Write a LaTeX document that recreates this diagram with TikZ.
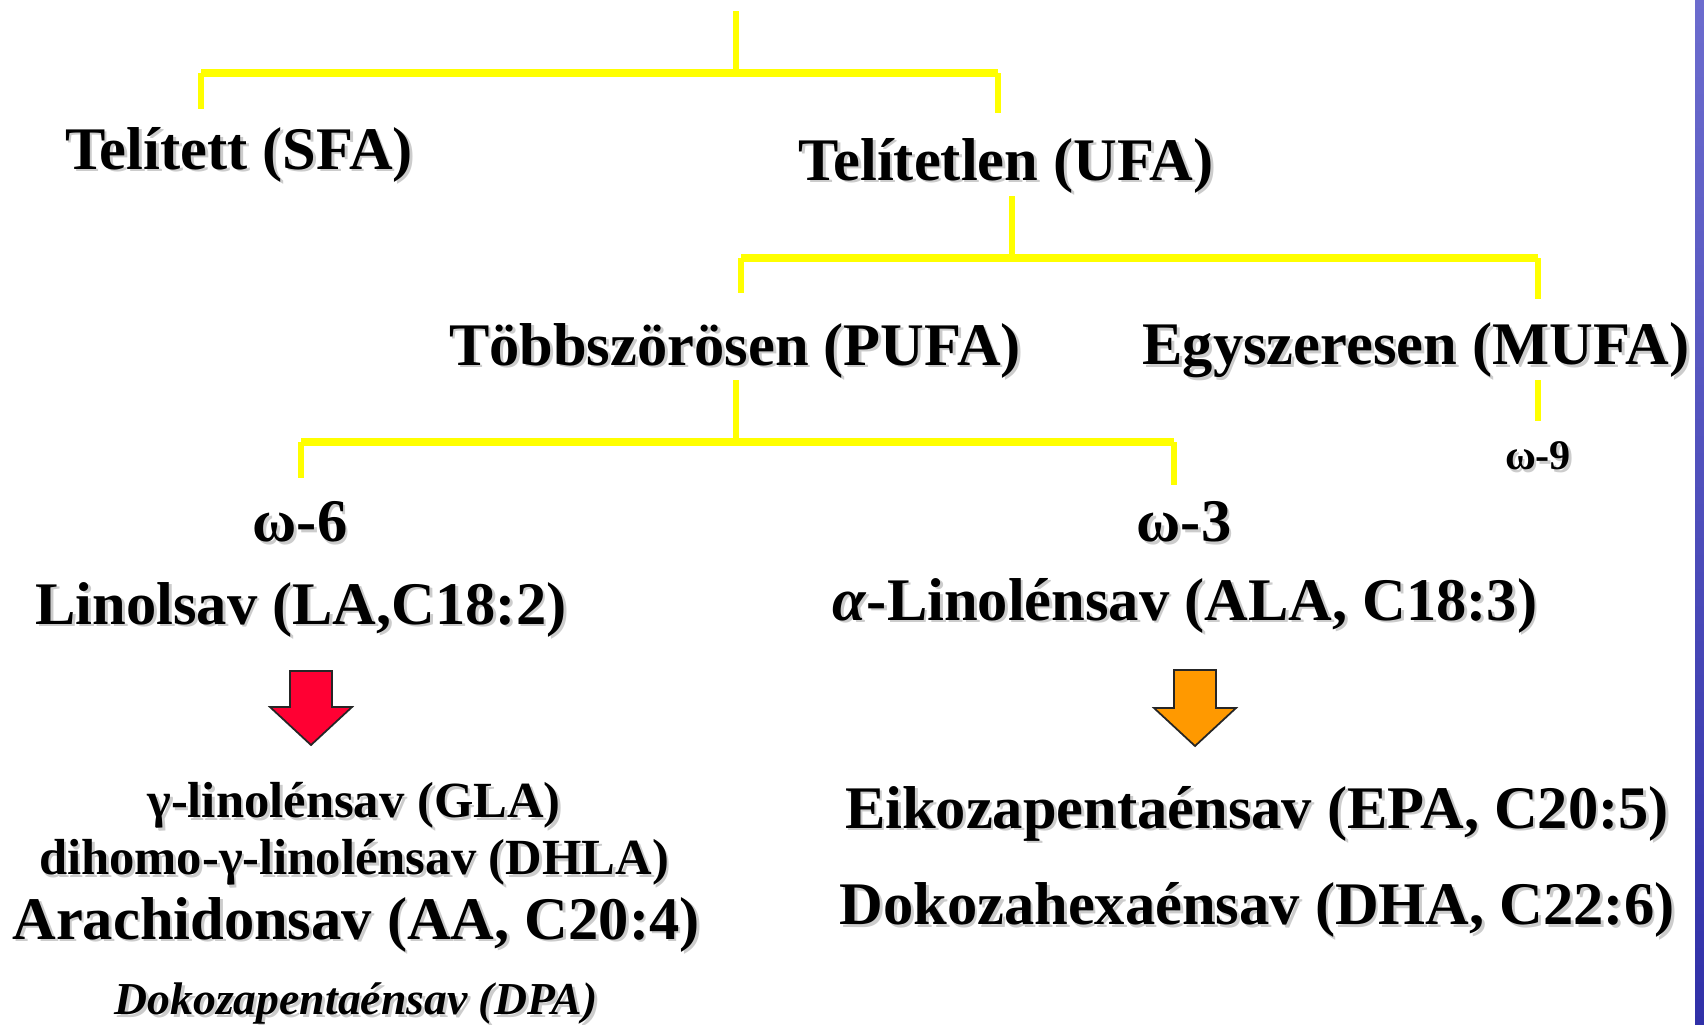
\documentclass[tikz,border=0pt]{standalone}
\usepackage{fontspec}
\setmainfont{Liberation Serif}
\usetikzlibrary{positioning}
\definecolor{barYellow}{RGB}{255,255,0}
\definecolor{arrRed}{RGB}{255,0,51}
\definecolor{arrOrange}{RGB}{255,153,0}
\definecolor{stripeTop}{RGB}{108,108,206}
\definecolor{stripeBot}{RGB}{48,48,168}
% text with a soft grey shadow
\newcommand{\shd}[1]{\rlap{\kern0.8pt\raisebox{-0.8pt}{\textcolor{black!20}{#1}}}#1}
\tikzset{
  lvl/.style={inner sep=0pt, font=\bfseries\fontsize{17.2}{20}\selectfont},
  sublvl/.style={inner sep=0pt, font=\bfseries\fontsize{14.4}{17}\selectfont},
  small/.style={inner sep=0pt, font=\bfseries\fontsize{12}{14}\selectfont},
  note/.style={inner sep=0pt, font=\bfseries\itshape\fontsize{13}{15}\selectfont},
  stem/.style={barYellow, line width=1.6pt},
  bar/.style={barYellow, line width=2.1pt},
  blockarrow/.style={draw=black!85, line width=0.5pt, line join=miter}
}

\begin{document}
\begin{tikzpicture}[x=0.01cm, y=-0.01cm]
  \useasboundingbox (0,0) rectangle (1704,1024);
  \fill[white] (0,0) rectangle (1704,1024);
  % blue edge on the right
  \shade[top color=stripeTop, bottom color=stripeBot] (1695,0) rectangle (1704,1024);

  % levels
  \node[lvl] (sfa) at (239,156) {\shd{Telített (SFA)}};
  \node[lvl] (ufa) at (1006,167) {\shd{Telítetlen (UFA)}};
  \node[lvl] (pufa) at (735,352) {\shd{Többszörösen (PUFA)}};
  \node[lvl] (mufa) at (1416,352) {\shd{Egyszeresen (MUFA)}};
  \node[small] (om9) at (1538,457) {\shd{ω-9}};
  \node[lvl] (om6) at (300,523) {\shd{ω-6}};
  \node[lvl] (om3) at (1184,523) {\shd{ω-3}};
  \node[lvl] (la) at (301,611) {\shd{Linolsav (LA,C18:2)}};
  \node[lvl] (ala) at (1185,607) {\shd{\textit{α}-Linolénsav (ALA, C18:3)}};
  \node[sublvl] (gla) at (354,807) {\shd{γ-linolénsav (GLA)}};
  \node[sublvl] (dhla) at (354,864) {\shd{dihomo-γ-linolénsav (DHLA)}};
  \node[lvl] (aa) at (356,926) {\shd{Arachidonsav (AA, C20:4)}};
  \node[note] (dpa) at (356,1005) {\shd{Dokozapentaénsav (DPA)}};
  \node[lvl] (epa) at (1257,815) {\shd{Eikozapentaénsav (EPA, C20:5)}};
  \node[lvl] (dha) at (1257,911) {\shd{Dokozahexaénsav (DHA, C22:6)}};

  % tree lines
  \coordinate (root) at (736,11);
  \coordinate (barAl) at (201,73);
  \coordinate (barAr) at (998,73);
  \draw[stem] (root) -- (root |- barAl);
  \draw[bar] (barAl) -- (barAr);
  \draw[stem] (barAl) -- ++(0,36);
  \draw[stem] (barAr) -- ++(0,40);

  \coordinate (barBl) at (741,258);
  \coordinate (barBr) at (1538,258);
  \draw[stem] (1012,196) -- (1012,258);
  \draw[bar] (barBl) -- (barBr);
  \draw[stem] (barBl) -- ++(0,35);
  \draw[stem] (barBr) -- ++(0,41);

  \coordinate (barCl) at (301,442);
  \coordinate (barCr) at (1174,442);
  \draw[stem] (736,380) -- (736,442);
  \draw[bar] (barCl) -- (barCr);
  \draw[stem] (barCl) -- ++(0,36);
  \draw[stem] (barCr) -- ++(0,43);
  \draw[stem] (1538,380) -- (1538,421);

  % block arrows
  \coordinate (laArrow) at (311,671);
  \coordinate (alaArrow) at (1195,670);
  \filldraw[blockarrow, fill=arrRed] (laArrow) ++(-21,0) -- ++(42,0) -- ++(0,36)
    -- ++(20,0) -- ++(-41,38) -- ++(-41,-38) -- ++(20,0) -- cycle;
  \filldraw[blockarrow, fill=arrOrange] (alaArrow) ++(-21,0) -- ++(42,0) -- ++(0,38)
    -- ++(20,0) -- ++(-41,38) -- ++(-41,-38) -- ++(20,0) -- cycle;
\end{tikzpicture}
\end{document}
